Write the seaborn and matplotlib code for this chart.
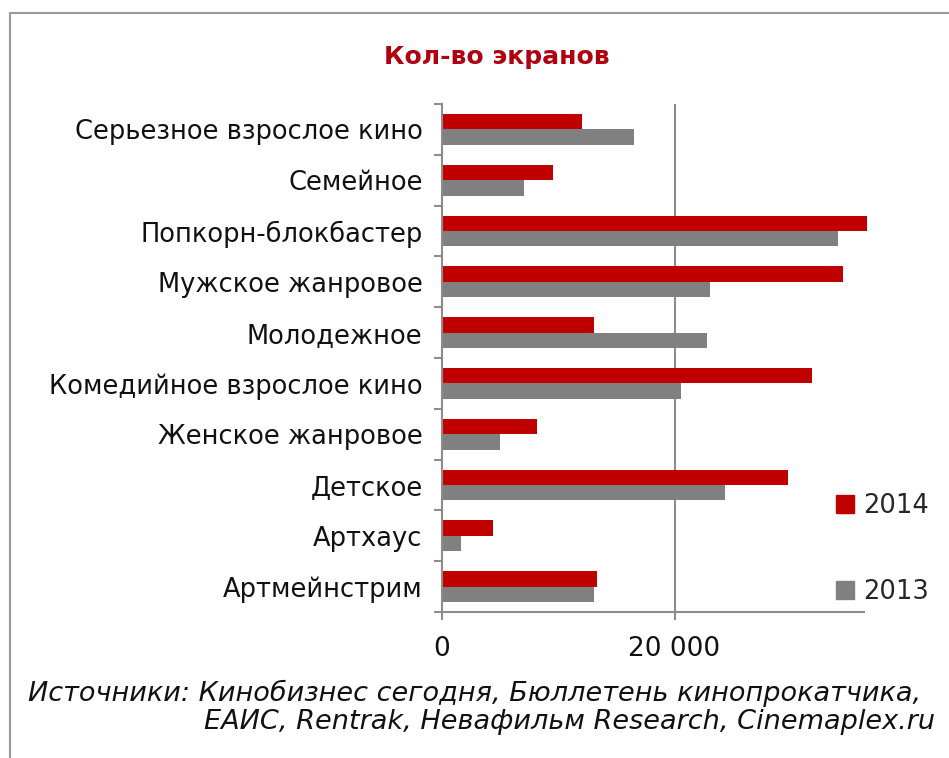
import matplotlib
matplotlib.use("Agg")
import matplotlib.pyplot as plt
import seaborn as sns
import pandas as pd
from matplotlib.lines import Line2D
from matplotlib.ticker import FixedLocator

categories = ["Серьезное взрослое кино", "Семейное", "Попкорн-блокбастер",
              "Мужское жанровое", "Молодежное", "Комедийное взрослое кино",
              "Женское жанровое", "Детское", "Артхаус", "Артмейнстрим"]
values_2014 = [12030, 9540, 36530, 34500, 13100, 31800, 8200, 29770, 4380, 13350]
values_2013 = [16500, 7050, 34040, 23070, 22810, 20540, 5020, 24380, 1630, 13100]
series = ["2014", "2013"]
x_ticks = [0, 20000]
x_tick_labels = ["0", "20 000"]
title = "Кол-во экранов"
source_lines = ["Источники: Кинобизнес сегодня, Бюллетень кинопрокатчика,",
                "ЕАИС, Rentrak, Невафильм Research, Cinemaplex.ru"]

df = pd.DataFrame({
    "cat": categories * 2,
    "year": [series[0]] * len(categories) + [series[1]] * len(categories),
    "val": values_2014 + values_2013,
})

sns.set_theme(style="white")
plt.rcParams["font.family"] = ["DejaVu Sans"]

W, H = 949, 758
fig = plt.figure(figsize=(W / 100, H / 100), dpi=100)
ax = fig.add_axes([442 / W, 1 - 612 / H, (864 - 442) / W, (612 - 104) / H])

palette = {"2014": "#C00000", "2013": "#808080"}
sns.barplot(data=df, y="cat", x="val", hue="year", hue_order=series,
            order=categories, palette=palette, width=0.61, ax=ax,
            saturation=1, legend=False, orient="h", linewidth=0,
            edgecolor="none", gap=0)
for p in ax.patches:
    p.set_clip_on(False)
    p.set_linewidth(0)

ax.set_xlim(0, 36300)
ax.set_ylim(len(categories) - 0.5, -0.5)
ax.set_xlabel("")
ax.set_ylabel("")

for s in ["top", "right"]:
    ax.spines[s].set_visible(False)
for s in ["left", "bottom"]:
    ax.spines[s].set_color("#8c8c8c")
    ax.spines[s].set_linewidth(1.5)

ax.axvline(20000, color="#8c8c8c", lw=1.5, zorder=0)

ax.set_xticks(x_ticks)
ax.set_xticklabels(x_tick_labels, fontsize=19, color="#111111")
ax.tick_params(axis="x", which="major", direction="out", length=6, width=1.5,
               color="#8c8c8c", pad=11, bottom=True)

ax.set_yticks(range(len(categories)))
ax.set_yticklabels(categories, fontsize=18.5, color="#111111")
ax.tick_params(axis="y", which="major", length=0, pad=14)
ax.yaxis.set_minor_locator(FixedLocator([i - 0.5 for i in range(len(categories) + 1)]))
ax.tick_params(axis="y", which="minor", direction="out", length=6, width=1.5,
               color="#8c8c8c", left=True)

fig.text(497 / W, 1 - 57 / H, title, ha="center", va="center",
         fontsize=18, fontweight="bold", color="#B00010")

# legend
handles = [Line2D([0], [0], marker="s", linestyle="none", markersize=12.5,
                  markerfacecolor=palette[s], markeredgecolor=palette[s]) for s in series]
fig.legend(handles, series, loc="center left", bbox_to_anchor=(822 / W, 1 - 549 / H),
           frameon=False, fontsize=18.5, handletextpad=0.2, labelspacing=2.3,
           handlelength=1.0, borderaxespad=0)

fig.text(921 / W, 1 - 693 / H, source_lines[0], ha="right", va="center",
         fontsize=19.5, style="italic", color="#111111")
fig.text(935 / W, 1 - 722 / H, source_lines[1], ha="right", va="center",
         fontsize=19.5, style="italic", color="#111111")

# outer frame (top and left)
fig.add_artist(Line2D([10 / W, 10 / W], [0, 1 - 13 / H], transform=fig.transFigure,
                      color="#9a9a9a", lw=1.5))
fig.add_artist(Line2D([10 / W, 1], [1 - 13 / H, 1 - 13 / H], transform=fig.transFigure,
                      color="#9a9a9a", lw=1.5))

fig.savefig("out.png", dpi=100, facecolor="white")
